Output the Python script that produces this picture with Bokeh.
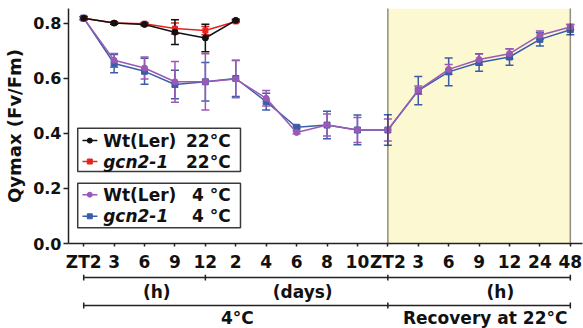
from bokeh.plotting import figure
from bokeh.models import (Range1d, FixedTicker, Whisker, TeeHead, ColumnDataSource,
                          BoxAnnotation, Span, PrintfTickFormatter)
from bokeh.layouts import column
from bokeh.embed import file_html
from bokeh.resources import INLINE
from bokeh.core.properties import value

# ---------------- data ----------------
tick_labels = ["ZT2", "3", "6", "9", "12", "2", "4", "6", "8", "10",
               "ZT2", "3", "6", "9", "12", "24", "48"]
y_ticks = [0.0, 0.2, 0.4, 0.6, 0.8]

wt22 = [0.818, 0.800, 0.795, 0.767, 0.746, 0.810]
wt22_err = [0.005, 0.004, 0.005, 0.045, 0.050, 0.004]
gcn22 = [0.818, 0.800, 0.798, 0.780, 0.773, 0.806]
gcn22_err = [0.005, 0.004, 0.004, 0.020, 0.015, 0.004]

wt4 = [0.818, 0.665, 0.637, 0.587, 0.587, 0.597, 0.527, 0.403, 0.430, 0.412,
       0.412, 0.557, 0.632, 0.668, 0.689, 0.756, 0.786]
wt4_err = [0.005, 0.025, 0.040, 0.074, 0.102, 0.068, 0.028, 0.005, 0.040, 0.045,
           0.040, 0.015, 0.018, 0.020, 0.018, 0.015, 0.010]
gcn4 = [0.818, 0.653, 0.625, 0.577, 0.587, 0.599, 0.515, 0.422, 0.430, 0.412,
        0.412, 0.555, 0.623, 0.657, 0.677, 0.741, 0.776]
gcn4_err = [0.006, 0.033, 0.047, 0.052, 0.070, 0.065, 0.030, 0.005, 0.050, 0.054,
            0.055, 0.051, 0.050, 0.032, 0.030, 0.024, 0.018]

bracket_rows = [
    # (start, end, label, label_x)
    [(0, 4, "(h)", 2.4), (4, 10, "(days)", 7.2), (10, 16, "(h)", 13.7)],
    [(0, 10, "4°C", 5.05), (10, 16, "Recovery at 22°C", 13.2)],
]

FONT = "DejaVu Sans"
BLACK = "#111111"
RED = "#e8231f"
PURPLE = "#9b59b6"
BLUE = "#3a5da8"

x_all = list(range(len(tick_labels)))
x_22 = x_all[:len(wt22)]

x_range = Range1d(-0.5, 16.4)
W = 583
LEFT = 68

# ---------------- main plot ----------------
p = figure(width=W, height=274, x_range=x_range, y_range=Range1d(0, 0.853),
           output_backend="svg", toolbar_location=None,
           min_border_left=LEFT, min_border_right=1, min_border_top=8, min_border_bottom=30)
p.outline_line_color = None
p.grid.visible = False

ya = p.yaxis[0]
ya.ticker = FixedTicker(ticks=y_ticks)
ya.formatter = PrintfTickFormatter(format="%.1f")
ya.axis_label = "Qymax (Fv/Fm)"
ya.axis_label_text_font = FONT
ya.axis_label_text_font_style = "bold"
ya.axis_label_text_font_size = "18px"
ya.axis_label_standoff = 5
ya.major_label_text_font = FONT
ya.major_label_text_font_style = "bold"
ya.major_label_text_font_size = "16px"
ya.major_label_standoff = 2
ya.major_tick_out = 5
ya.major_tick_in = 0
ya.minor_tick_out = 0
ya.minor_tick_in = 0
ya.axis_line_width = 1.5
ya.major_tick_line_width = 1.5
ya.axis_line_color = "#222222"
ya.major_tick_line_color = "#222222"
ya.major_label_text_color = "#111111"
ya.axis_label_text_color = "#111111"

xa = p.xaxis[0]
xa.ticker = FixedTicker(ticks=x_all)
xa.major_label_overrides = {i: lab for i, lab in enumerate(tick_labels)}
xa.major_label_text_font = FONT
xa.major_label_text_font_style = "bold"
xa.major_label_text_font_size = "17px"
xa.major_label_text_color = "#111111"
xa.major_label_standoff = 5
xa.major_tick_out = 3
xa.major_tick_in = 0
xa.minor_tick_out = 0
xa.minor_tick_in = 0
xa.axis_line_width = 1.5
xa.major_tick_line_width = 1.5
xa.axis_line_color = "#222222"
xa.major_tick_line_color = "#222222"

# recovery shading and dotted boundaries
p.add_layout(BoxAnnotation(left=x_all[10], right=x_all[16], fill_color="#fcf8d2",
                           fill_alpha=1.0, line_color=None, level="underlay"))
for xv in (x_all[10], x_all[16]):
    p.add_layout(Span(location=xv, dimension="height", line_color="#222211",
                      line_width=1.5, line_dash="1 1"))


def series(xs, ys, errs, color, marker, msize):
    src = ColumnDataSource(dict(x=xs, y=ys,
                                upper=[a + b for a, b in zip(ys, errs)],
                                lower=[a - b for a, b in zip(ys, errs)]))
    w = Whisker(base="x", upper="upper", lower="lower", source=src,
                line_color=color, line_width=1.5,
                upper_head=TeeHead(size=8, line_color=color, line_width=1.5),
                lower_head=TeeHead(size=8, line_color=color, line_width=1.5))
    p.add_layout(w)
    p.line("x", "y", source=src, line_color=color, line_width=1.5)
    p.scatter("x", "y", source=src, marker=marker, size=msize,
              fill_color=color, line_color=color)


series(x_all, gcn4, gcn4_err, BLUE, "square", 6)
series(x_all, wt4, wt4_err, PURPLE, "circle", 6)
series(x_22, gcn22, gcn22_err, RED, "square", 5)
series(x_22, wt22, wt22_err, BLACK, "circle", 6)

# ---------------- legend boxes ----------------
box_l, box_r = -0.197, 5.155
p.quad(left=[box_l, box_l], right=[box_r, box_r], top=[0.418, 0.219],
       bottom=[0.261, 0.057], fill_color="white", line_color="#3a3a3a", line_width=1.5)

legend_items = [
    ("Wt(Ler)", "bold", "22°C", BLACK, "circle", 5, 0.3735),
    ("gcn2-1", "bold italic", "22°C", RED, "square", 5, 0.2976),
    ("Wt(Ler)", "bold", "4 °C", PURPLE, "circle", 5, 0.1772),
    ("gcn2-1", "bold italic", "4 °C", BLUE, "square", 5, 0.0987),
]
for name, style, temp, color, marker, ms, yy in legend_items:
    p.line([-0.04, 0.45], [yy, yy], line_color=color, line_width=1.5)
    p.scatter([0.2], [yy], marker=marker, size=ms, fill_color=color, line_color=color)
    p.text([0.64], [yy], text=[name], text_font=value(FONT), text_font_style=style,
           text_font_size="17px", text_baseline="middle", text_align="left",
           text_color="#111111")
    p.text([4.83], [yy], text=[temp], text_font=value(FONT), text_font_style="bold",
           text_font_size="17px", text_baseline="middle", text_align="right",
           text_color="#111111")

# ---------------- bracket figure below ----------------
H2 = 54
p2 = figure(width=W, height=H2, x_range=x_range, y_range=Range1d(H2, 0),
            output_backend="svg", toolbar_location=None,
            x_axis_location=None, y_axis_location=None,
            min_border_left=LEFT, min_border_right=1, min_border_top=0, min_border_bottom=0)
p2.outline_line_color = None
p2.grid.visible = False

row_y = [3, 31]
text_y = [17.5, 43]
for row, ly, ty in zip(bracket_rows, row_y, text_y):
    ends = sorted({s for s, e, t, tx in row} | {e for s, e, t, tx in row})
    p2.segment(x0=[s for s, e, t, tx in row], x1=[e for s, e, t, tx in row],
               y0=[ly] * len(row), y1=[ly] * len(row), line_color="#222222", line_width=1.5)
    p2.segment(x0=ends, x1=ends, y0=[ly - 3] * len(ends), y1=[ly + 3] * len(ends),
               line_color="#222222", line_width=1.5)
    p2.text([tx for s, e, t, tx in row], [ty] * len(row), text=[t for s, e, t, tx in row],
            text_font=value(FONT), text_font_style="bold", text_font_size="17px",
            text_baseline="middle", text_align="center", text_color="#111111")

layout = column(p, p2)
open("out.html", "w").write(file_html(layout, INLINE))
